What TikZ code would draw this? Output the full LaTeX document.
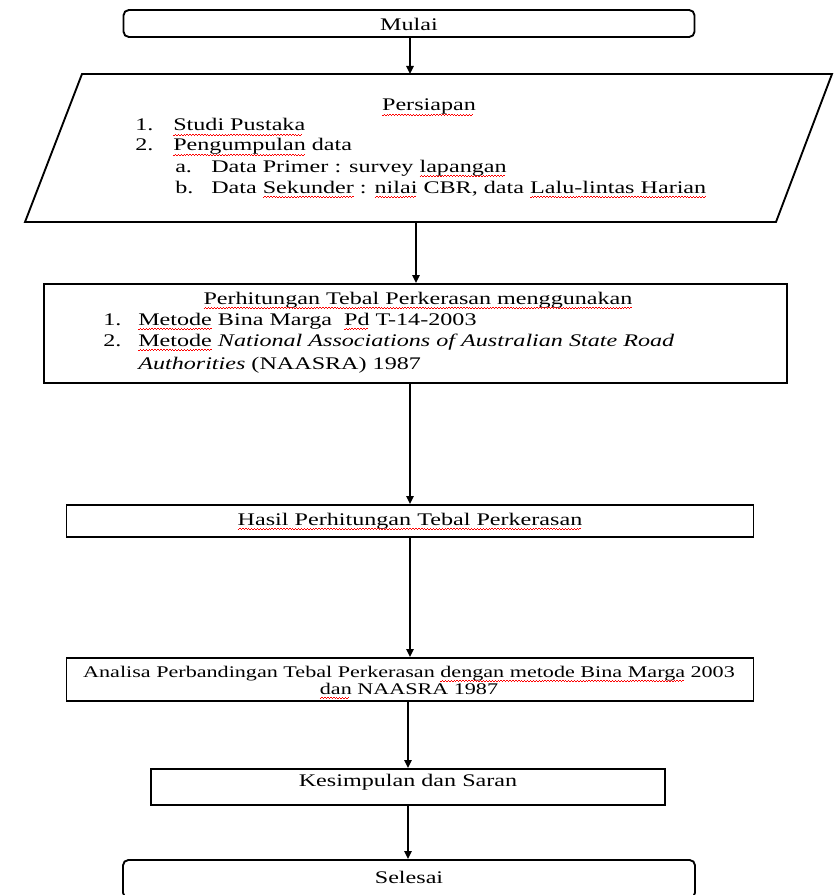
\documentclass[tikz,border=0pt]{standalone}
\usepackage{fontspec}
\setmainfont{Liberation Serif}[FakeStretch=1.36]
\usetikzlibrary{arrows.meta}
\newsavebox\sqwbox
\newcommand\sqw[1]{\setbox\sqwbox\hbox{#1}\leavevmode\rlap{\usebox\sqwbox}\hbox to\wd\sqwbox{\leaders\hbox{{\color{red}\rule[-3.4pt]{1.1pt}{0.6pt}\rule[-2.6pt]{1.1pt}{0.6pt}}}\hfil}}
\begin{document}
\begin{tikzpicture}[x=0.75pt,y=-0.75pt,
  every node/.style={font=\fontsize{13.3}{15.4}\selectfont},
  txt/.style={inner sep=0pt, anchor=base west},
  ctxt/.style={inner sep=0pt, anchor=base},
  boxs/.style={draw, line width=1.4pt, inner sep=0pt},
  term/.style={boxs, rounded corners=4pt},
  arr/.style={line width=1.3pt, -{Triangle[length=6pt,width=5.5pt]}},
  smalltxt/.style={ctxt, font=\fontsize{12.2}{13.5}\selectfont}]
\useasboundingbox (0,0) rectangle (839,895);

% Mulai
\node[term, minimum width=428.25pt, minimum height=20.25pt] (start) at (409,23.5) {};
\node[ctxt] (tstart) at (409,31) {Mulai};

% Persiapan (parallelogram)
\coordinate (ptl) at (82,74);
\coordinate (ptr) at (832,74);
\coordinate (pbr) at (776,222);
\coordinate (pbl) at (25,222);
\draw[line width=1.4pt] (ptl) -- (ptr) -- (pbr) -- (pbl) -- cycle;
\coordinate (ptop) at (410,74);
\coordinate (pbot) at (416,222);
\draw[arr] (ptop |- start.south) -- (ptop);

\node[ctxt] (tpers) at (429,111) {\sqw{Persiapan}};
\node[txt] (n1) at (135,131) {1.};
\node[txt] (l1) at (173,131) {\sqw{Studi Pustaka}};
\node[txt] (n2) at (135,151) {2.};
\node[txt] (l2) at (173,151) {\sqw{Pengumpulan} data};
\node[txt] (na) at (175,172.5) {a.};
\node[txt] (la) at (211,172.5) {Data Primer : survey \sqw{lapangan}};
\node[txt] (nb) at (175,193) {b.};
\node[txt] (lb) at (211,193) {Data \sqw{Sekunder} : \sqw{nilai} CBR, data \sqw{Lalu-lintas Harian}};

% Perhitungan
\node[boxs, minimum width=557.25pt, minimum height=74.25pt] (calc) at (415.5,333.5) {};
\draw[arr] (pbot) -- (pbot |- calc.north);
\node[ctxt] (tcalc) at (418,304) {\sqw{Perhitungan Tebal Perkerasan menggunakan}};
\node[txt] (m1n) at (103,325) {1.};
\node[txt] (m1) at (138,325) {\sqw{Metode} Bina Marga \ \sqw{Pd} T-14-2003};
\node[txt] (m2n) at (103,346) {2.};
\node[txt] (m2) at (138,346) {\sqw{Metode} \textit{National Associations of Australian State Road}};
\node[txt] (m3) at (138,369) {\textit{Authorities} (NAASRA) 1987};

% Hasil
\node[boxs, minimum width=515.25pt, minimum height=24pt] (hasil) at (410,521) {};
\draw[arr] (hasil.north |- calc.south) -- (hasil.north);
\node[ctxt] (thasil) at (410,525) {\sqw{Hasil Perhitungan Tebal Perkerasan}};

% Analisa
\node[boxs, minimum width=515.25pt, minimum height=32.25pt] (anal) at (410,679.5) {};
\draw[arr] (hasil.south) -- (anal.north);
\node[smalltxt] (tanal1) at (409,677) {Analisa Perbandingan Tebal Perkerasan \sqw{dengan metode Bina Marga} 2003};
\node[smalltxt] (tanal2) at (409,694) {\sqw{dan} NAASRA 1987};

% Kesimpulan
\node[boxs, minimum width=385.5pt, minimum height=27pt] (kes) at (408,787) {};
\draw[arr] (kes.north |- anal.south) -- (kes.north);
\node[ctxt] (tkes) at (408,786) {Kesimpulan dan Saran};

% Selesai
\node[term, minimum width=429pt, minimum height=28.5pt] (stop) at (409,879) {};
\draw[arr] (kes.south) -- (stop.north -| kes.south);
\node[ctxt] (tstop) at (409,883) {Selesai};
\end{tikzpicture}
\end{document}
